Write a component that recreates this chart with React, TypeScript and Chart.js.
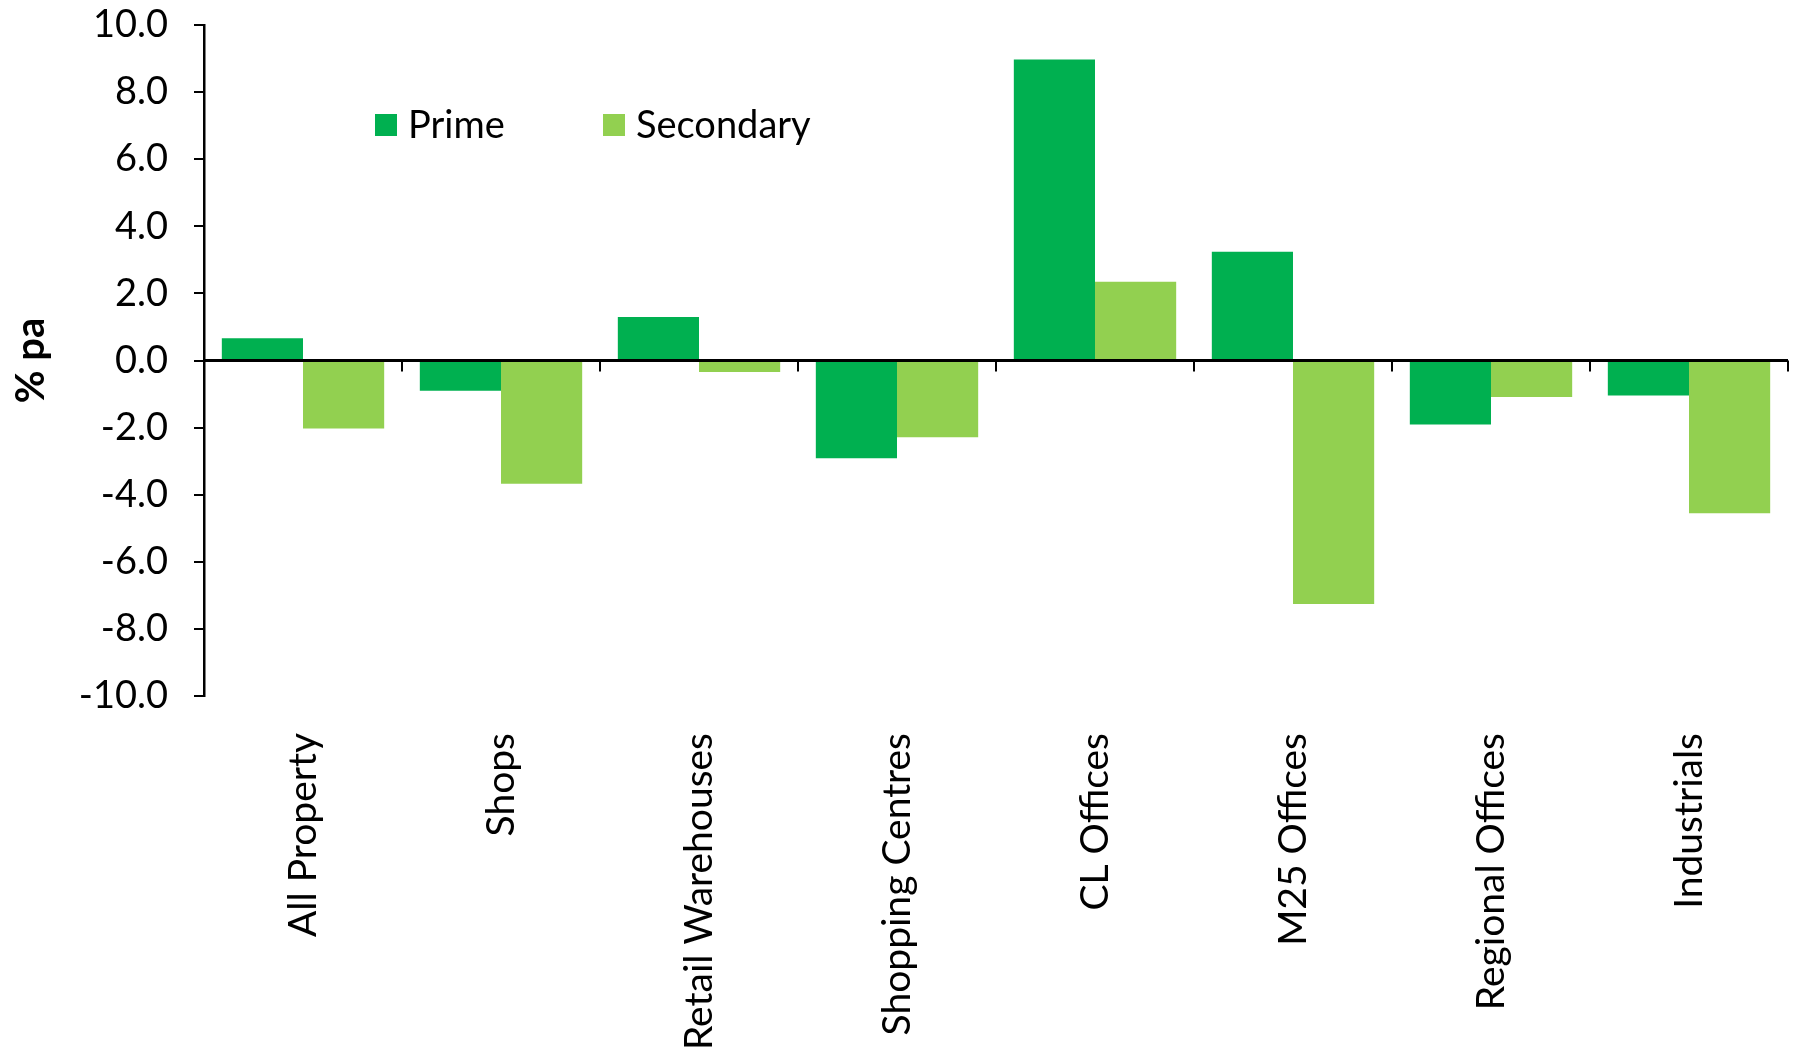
import React, { useEffect, useRef } from "react";
import { Chart, registerables } from "chart.js";

Chart.register(...registerables);

const categories = [
  "All Property",
  "Shops",
  "Retail Warehouses",
  "Shopping Centres",
  "CL Offices",
  "M25 Offices",
  "Regional Offices",
  "Industrials",
];
const seriesNames = ["Prime", "Secondary"];
const primeValues = [0.66, -0.9, 1.3, -2.91, 8.97, 3.24, -1.91, -1.04];
const secondaryValues = [-2.03, -3.67, -0.34, -2.29, 2.35, -7.26, -1.09, -4.55];
const seriesColors = ["#00B050", "#92D050"];
const yMin = -10;
const yMax = 10;
const yStep = 2;
const yTitle = "% pa";

const FONT = "Lato, 'Open Sans', sans-serif";

const overlayPlugin = {
  id: "overlay",
  afterDatasetsDraw(chart: any) {
    const { ctx, chartArea, scales } = chart;
    const xs = scales.x;
    const ys = scales.y;
    const y0 = ys.getPixelForValue(0);
    ctx.save();
    ctx.strokeStyle = "#000";
    ctx.lineWidth = 3;
    ctx.beginPath();
    ctx.moveTo(chartArea.left, y0);
    ctx.lineTo(chartArea.right, y0);
    ctx.stroke();
    const half = (xs.getPixelForValue(1) - xs.getPixelForValue(0)) / 2;
    ctx.lineWidth = 2;
    for (let i = 0; i < categories.length; i++) {
      const xb = Math.round(xs.getPixelForValue(i) + half);
      ctx.beginPath();
      ctx.moveTo(xb, y0);
      ctx.lineTo(xb, y0 + 11);
      ctx.stroke();
    }
    // legend
    const items = chart.data.datasets.map((d: any) => ({ label: d.label, color: d.backgroundColor }));
    const starts = [chartArea.left + 171, chartArea.left + 399];
    const cy = 125;
    ctx.font = `38px ${FONT}`;
    ctx.textBaseline = "middle";
    ctx.textAlign = "left";
    items.forEach((it: any, i: number) => {
      ctx.fillStyle = it.color;
      ctx.fillRect(starts[i], cy - 11, 22, 22);
      ctx.fillStyle = "#000";
      ctx.fillText(it.label, starts[i] + 33, cy + 1);
    });
    ctx.restore();
  },
};

export default function App() {
  const ref = useRef<HTMLCanvasElement | null>(null);
  useEffect(() => {
    if (!ref.current) return;
    Chart.defaults.color = "#000";
    const chart = new Chart(ref.current, {
      type: "bar",
      data: {
        labels: categories,
        datasets: [
          { label: seriesNames[0], data: primeValues, backgroundColor: seriesColors[0] },
          { label: seriesNames[1], data: secondaryValues, backgroundColor: seriesColors[1] },
        ],
      },
      options: {
        animation: false,
        responsive: true,
        maintainAspectRatio: false,
        layout: { padding: { top: 25, right: 7, left: 0, bottom: 0 } },
        datasets: { bar: { categoryPercentage: 0.82, barPercentage: 1.0 } },
        plugins: { legend: { display: false }, tooltip: { enabled: false } },
        scales: {
          x: {
            grid: { display: false, drawTicks: false },
            border: { display: false },
            ticks: {
              minRotation: 90,
              maxRotation: 90,
              padding: 37,
              autoSkip: false,
              color: "#000",
              font: { family: FONT, size: 39 },
            },
            afterFit: (s: any) => {
              s.height = 357;
              s.paddingLeft = 0;
              s.paddingRight = 0;
              s.paddingTop = 0;
              s.paddingBottom = 0;
            },
          },
          y: {
            min: yMin,
            max: yMax,
            border: { display: true, color: "#000", width: 2.5 },
            grid: { drawOnChartArea: false, drawTicks: true, tickLength: 10, color: "#000", lineWidth: 2 },
            ticks: {
              stepSize: yStep,
              padding: 26,
              color: "#000",
              font: { family: FONT, size: 38 },
              callback: (v: any) => Number(v).toFixed(1),
            },
            title: {
              display: true,
              text: yTitle,
              color: "#000",
              padding: { top: 7, bottom: 0 },
              font: { family: FONT, size: 40, weight: "bold" },
            },
            afterFit: (s: any) => {
              s.width = 204;
              s.paddingLeft = 0;
              s.paddingRight = 0;
              s.paddingTop = 0;
              s.paddingBottom = 0;
            },
          },
        },
      },
      plugins: [overlayPlugin],
    });
    return () => chart.destroy();
  }, []);
  return (
    <div style={{ position: "absolute", left: 0, top: 0, width: 1795, height: 1053, background: "#fff" }}>
      <canvas ref={ref} />
    </div>
  );
}
